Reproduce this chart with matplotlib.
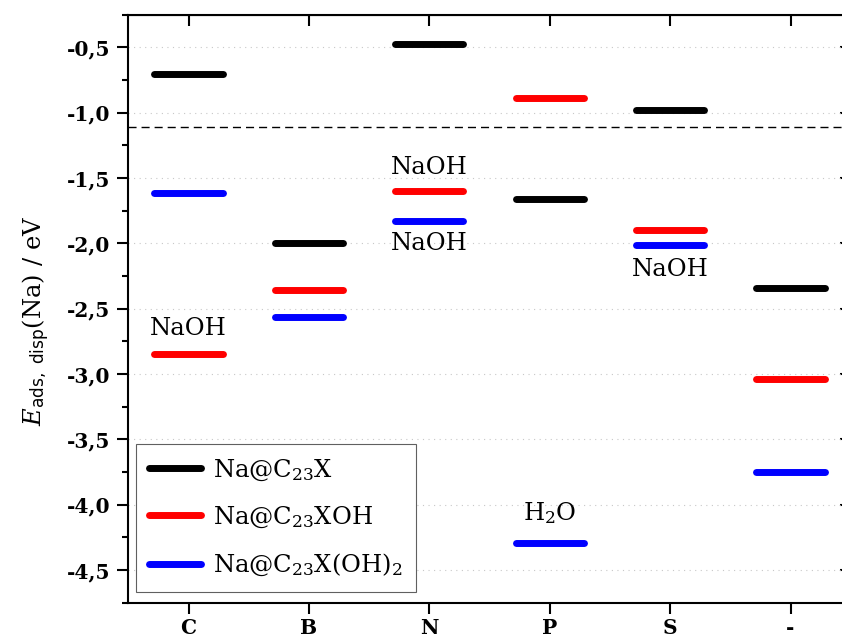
import matplotlib
matplotlib.use('Agg')
import matplotlib.pyplot as plt
from matplotlib.ticker import MultipleLocator, FuncFormatter
import numpy as np

plt.rcParams['font.family'] = ['DejaVu Serif']
plt.rcParams['mathtext.fontset'] = 'custom'
plt.rcParams['mathtext.rm'] = 'DejaVu Serif'
plt.rcParams['mathtext.it'] = 'DejaVu Serif:italic'
plt.rcParams['mathtext.bf'] = 'DejaVu Serif:bold'
plt.rcParams['mathtext.sf'] = 'DejaVu Sans'

# data (eV)
dopants = ['C', 'B', 'N', 'P', 'S', '-']
e_c23x = [-0.704, -2.00, -0.475, -1.658, -0.977, -2.342]
e_c23xoh = [-2.847, -2.357, -1.597, -0.885, -1.896, -3.04]
e_c23xoh2 = [-1.615, -2.564, -1.827, -4.293, -2.01, -3.75]
e_ref = -1.107

series = [
    (e_c23x, 'black', r'Na@C$_{23}$X'),
    (e_c23xoh, '#ff0000', r'Na@C$_{23}$XOH'),
    (e_c23xoh2, '#0000ff', r'Na@C$_{23}$X(OH)$_2$'),
]

# labels next to some levels: (dopant index, y baseline, text)
notes = [
    (0, -2.697, 'NaOH'),
    (2, -1.465, 'NaOH'),
    (2, -2.047, 'NaOH'),
    (4, -2.251, 'NaOH'),
    (3, -4.12, r'H$_2$O'),
]

fig = plt.figure(figsize=(8.42, 6.39), dpi=100)
ax = fig.add_axes([0.1524, 0.0568, 0.858, 0.920])

xpos = np.arange(1, len(dopants) + 1)
half = 0.283

for vals, col, lab in series:
    for i, (x, y) in enumerate(zip(xpos, vals)):
        ax.plot([x - half, x + half], [y, y], color=col, lw=5,
                solid_capstyle='round', label=lab if i == 0 else None, zorder=3)

ax.axhline(e_ref, color='black', lw=1.0, dashes=(5.8, 3.6), zorder=2)

for i, y, txt in notes:
    ax.text(xpos[i], y, txt, ha='center', va='baseline', fontsize=17.5)

ax.set_xlim(0.5, 6.5)
ax.set_ylim(-4.75, -0.25)
ax.set_xticks(xpos)
ax.set_xticklabels(dopants, fontsize=14.5, fontweight='bold')
ax.yaxis.set_major_locator(MultipleLocator(0.5))
ax.yaxis.set_minor_locator(MultipleLocator(0.25))
ax.yaxis.set_major_formatter(FuncFormatter(lambda v, p: ('%.1f' % v).replace('.', ',')))
ax.tick_params(axis='y', which='major', direction='out', length=8, width=1.5,
               labelsize=14.5, pad=5)
ax.tick_params(axis='y', which='minor', direction='out', length=4, width=1.5)
ax.tick_params(axis='x', which='major', direction='out', length=8, width=1.5, pad=3)
for lab in ax.get_yticklabels():
    lab.set_fontweight('bold')

ax.grid(axis='y', which='major', color='#c8c8c8', lw=0.8, linestyle=(0, (1, 4)))
ax.set_axisbelow(True)

for sp in ax.spines.values():
    sp.set_linewidth(1.5)

top = ax.secondary_xaxis('top')
top.set_xticks(xpos)
top.tick_params(direction='in', length=8, width=1.5, labeltop=False)
right = ax.secondary_yaxis('right')
right.yaxis.set_major_locator(MultipleLocator(0.5))
right.yaxis.set_minor_locator(MultipleLocator(0.25))
right.tick_params(which='major', direction='in', length=8, width=1.5, labelright=False)
right.tick_params(which='minor', direction='in', length=4, width=1.5)

ax.set_ylabel(r'$E_{\mathsf{ads,\ disp}}$(Na) / eV', fontsize=17.5)
ax.yaxis.set_label_coords(-0.105, 0.48)

leg = ax.legend(loc='lower left', bbox_to_anchor=(0.0108, 0.0187), borderaxespad=0,
                fontsize=17.5, handlelength=2.1, handletextpad=0.5,
                labelspacing=0.9, borderpad=0.55, fancybox=False, framealpha=1)
leg.get_frame().set_edgecolor('#606060')
leg.get_frame().set_linewidth(0.8)

fig.savefig('out.png', dpi=100)
